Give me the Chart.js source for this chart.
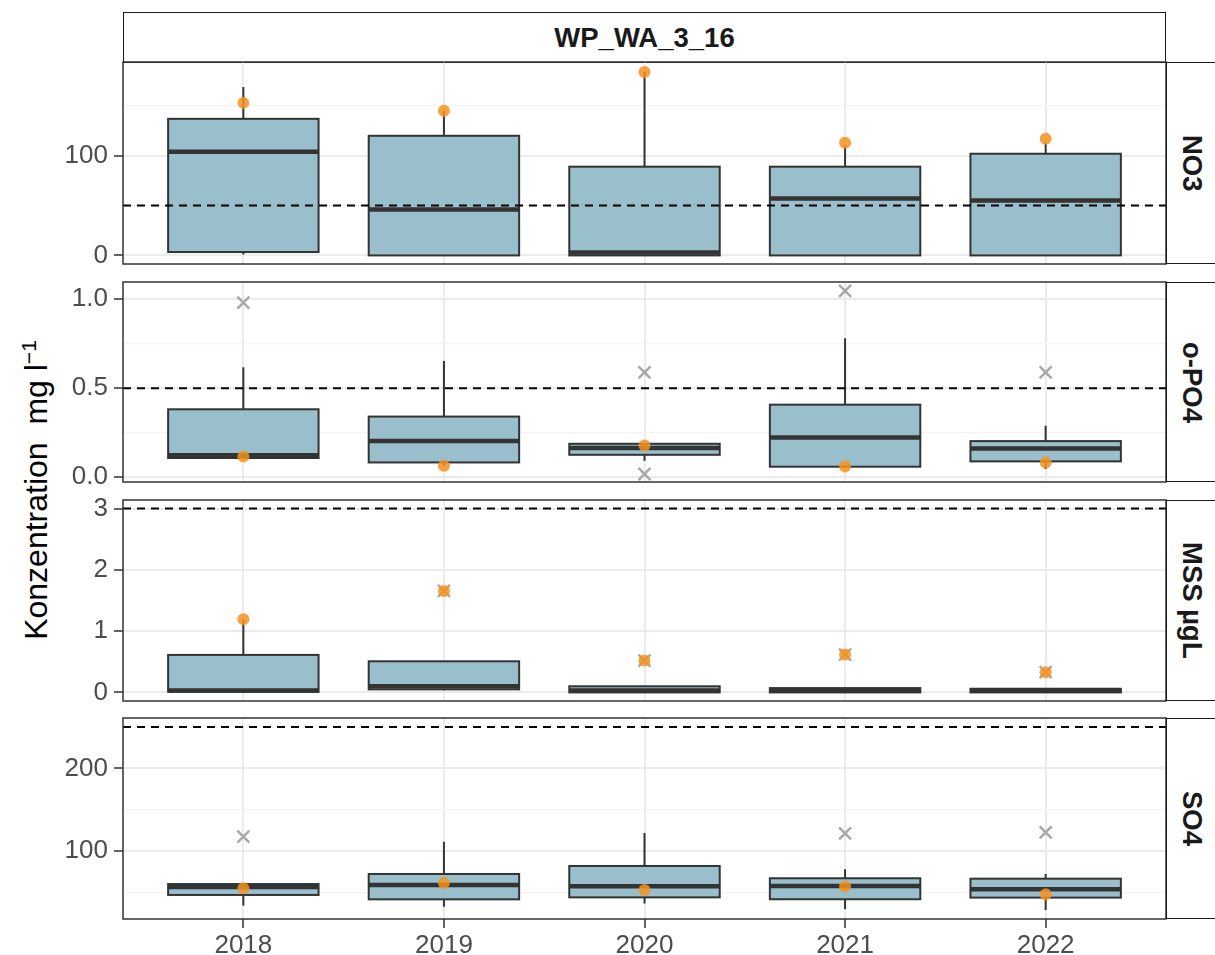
<!DOCTYPE html>
<html>
<head>
<meta charset="utf-8">
<script src="https://cdn.jsdelivr.net/npm/chart.js@4.4.1/dist/chart.umd.min.js"></script>
<style>
  body { margin: 0; width: 1215px; height: 955px; overflow: hidden; position: relative; background: #fff; font-family: "Liberation Sans", Arial, sans-serif; }
  canvas { position: absolute; left: 0; }
  .strip { position: absolute; box-sizing: border-box; border: 1.5px solid #1a1a1a; background: #fff; color: #1a1a1a; font-weight: bold; font-size: 27.5px; display: flex; align-items: center; justify-content: center; }
  .strip.side { writing-mode: vertical-rl; }
  #ytitle { position: absolute; left: 36px; top: 490px; transform: translate(-50%, -50%) rotate(-90deg); white-space: nowrap; font-size: 32px; color: #000; }
  #ytitle sup { font-size: 21px; }
</style>
</head>
<body>
<div class="strip" style="left:123px;top:12px;width:1043px;height:51px;">WP_WA_3_16</div>
<div id="ytitle">Konzentration&nbsp; mg l<sup>−1</sup></div>
<script>
// values
const years = ['2018', '2019', '2020', '2021', '2022']

const no3Low = [1, 0, 0, 0, 0]
const no3Q1 = [3.4, 0, 0, 0, 0]
const no3Median = [104, 46, 3, 57, 55]
const no3Q3 = [137, 120, 89, 89, 102]
const no3High = [169, 145, 184, 110, 113]
const no3Dots = [153, 145, 184, 113, 117]
const no3Crosses = [[], [], [], [], []]
const no3Limit = 50
const no3Ticks = [0, 100]
const no3TickLabels = ['0', '100']
const no3Minor = [50, 150]

const po4Low = [0.107, 0.065, 0.091, 0.055, 0.045]
const po4Q1 = [0.107, 0.082, 0.125, 0.058, 0.088]
const po4Median = [0.123, 0.202, 0.163, 0.222, 0.16]
const po4Q3 = [0.381, 0.34, 0.187, 0.407, 0.202]
const po4High = [0.617, 0.652, 0.187, 0.78, 0.289]
const po4Dots = [0.116, 0.063, 0.177, 0.059, 0.082]
const po4Crosses = [[0.981], [], [0.589, 0.017], [1.047], [0.589]]
const po4Limit = 0.5
const po4Ticks = [0, 0.5, 1]
const po4TickLabels = ['0.0', '0.5', '1.0']
const po4Minor = [0.25, 0.75]

const mssLow = [0, 0.035, 0, 0, 0]
const mssQ1 = [0.01, 0.05, 0, 0, 0]
const mssMedian = [0.03, 0.1, 0.03, 0.04, 0.03]
const mssQ3 = [0.612, 0.508, 0.1, 0.07, 0.06]
const mssHigh = [1.2, 0.508, 0.1, 0.07, 0.06]
const mssDots = [1.196, 1.656, 0.52, 0.617, 0.33]
const mssCrosses = [[], [1.656], [0.52], [0.617], [0.33]]
const mssLimit = 3
const mssTicks = [0, 1, 2, 3]
const mssTickLabels = ['0', '1', '2', '3']
const mssMinor = [0.5, 1.5, 2.5]

const so4Low = [33.9, 32.6, 36.6, 29.5, 28.7]
const so4Q1 = [46.8, 41.5, 43.9, 41.6, 43.6]
const so4Median = [56.5, 58.9, 57.3, 57.7, 53.6]
const so4Q3 = [60, 72.2, 81.9, 67, 66.5]
const so4High = [60, 111.3, 121.8, 77.9, 72.2]
const so4Dots = [54.9, 61.3, 52.8, 57, 47.6]
const so4Crosses = [[117.3], [], [], [121.4], [122.6]]
const so4Limit = 250
const so4Ticks = [100, 200]
const so4TickLabels = ['100', '200']
const so4Minor = [50, 150]

const panels = [
  { name: 'NO3', low: no3Low, q1: no3Q1, median: no3Median, q3: no3Q3, high: no3High, dots: no3Dots, crosses: no3Crosses, limit: no3Limit, ticks: no3Ticks, tickLabels: no3TickLabels, minor: no3Minor, min: -8.6, max: 194, top: 62, height: 202 },
  { name: 'o-PO4', low: po4Low, q1: po4Q1, median: po4Median, q3: po4Q3, high: po4High, dots: po4Dots, crosses: po4Crosses, limit: po4Limit, ticks: po4Ticks, tickLabels: po4TickLabels, minor: po4Minor, min: -0.028, max: 1.097, top: 282, height: 200 },
  { name: 'MSS µgL', low: mssLow, q1: mssQ1, median: mssMedian, q3: mssQ3, high: mssHigh, dots: mssDots, crosses: mssCrosses, limit: mssLimit, ticks: mssTicks, tickLabels: mssTickLabels, minor: mssMinor, min: -0.14, max: 3.14, top: 500, height: 201 },
  { name: 'SO4', low: so4Low, q1: so4Q1, median: so4Median, q3: so4Q3, high: so4High, dots: so4Dots, crosses: so4Crosses, limit: so4Limit, ticks: so4Ticks, tickLabels: so4TickLabels, minor: so4Minor, min: 17.7, max: 261, top: 718, height: 201 }
]

const PAD = 26
const X_AXIS = 36
const DARK = '#333333'
const FONT = '"Liberation Sans", Arial, sans-serif'

// box, whiskers and median, drawn under the points
function boxPlugin (p) {
  return {
    id: 'boxes',
    beforeDatasetsDraw (chart) {
      const { ctx, scales: { x, y } } = chart
      ctx.save()
      years.forEach((yr, i) => {
        const cx = x.getPixelForValue(i + 1)
        const half = x.getPixelForValue(i + 1.375) - cx
        const top = y.getPixelForValue(p.q3[i])
        const bot = y.getPixelForValue(p.q1[i])
        ctx.strokeStyle = DARK
        ctx.lineWidth = 2
        ctx.beginPath()
        ctx.moveTo(cx, y.getPixelForValue(p.high[i]))
        ctx.lineTo(cx, top)
        ctx.moveTo(cx, y.getPixelForValue(p.low[i]))
        ctx.lineTo(cx, bot)
        ctx.stroke()
        ctx.fillStyle = '#99bfcc'
        ctx.fillRect(cx - half, top, half * 2, bot - top)
        ctx.strokeRect(cx - half, top, half * 2, bot - top)
        ctx.lineWidth = 4.5
        ctx.beginPath()
        const my = y.getPixelForValue(p.median[i])
        ctx.moveTo(cx - half, my)
        ctx.lineTo(cx + half, my)
        ctx.stroke()
      })
      ctx.restore()
    },
    afterDraw (chart) {
      const { ctx, chartArea: a } = chart
      ctx.save()
      ctx.strokeStyle = DARK
      ctx.lineWidth = 1.5
      ctx.strokeRect(a.left, a.top, a.right - a.left, a.bottom - a.top)
      ctx.restore()
    }
  }
}

function makePanel (p, isLast) {
  const canvas = document.createElement('canvas')
  canvas.width = 1215
  canvas.height = p.height + PAD + (isLast ? X_AXIS : PAD)
  canvas.style.top = (p.top - PAD) + 'px'
  document.body.appendChild(canvas)

  const strip = document.createElement('div')
  strip.className = 'strip side'
  strip.style.cssText = `left:1166px;top:${p.top}px;width:52px;height:${p.height}px;`
  strip.textContent = p.name
  document.body.appendChild(strip)

  const crossPoints = []
  p.crosses.forEach((list, i) => list.forEach(v => crossPoints.push({ x: i + 1, y: v })))
  const allTicks = [...p.ticks, ...p.minor].sort((a, b) => a - b)
  const isMinor = v => p.minor.includes(v)

  return new Chart(canvas, {
    data: {
      datasets: [
        {
          type: 'line',
          data: [{ x: 0.4, y: p.limit }, { x: 5.6, y: p.limit }],
          borderColor: '#000',
          borderWidth: 2,
          borderDash: [8, 6],
          pointRadius: 0,
          order: 0
        },
        {
          type: 'scatter',
          data: p.dots.map((v, i) => ({ x: i + 1, y: v })),
          backgroundColor: 'rgba(246, 146, 30, 0.85)',
          borderWidth: 0,
          pointRadius: 6,
          order: 1
        },
        {
          type: 'scatter',
          data: crossPoints,
          pointStyle: 'crossRot',
          pointRadius: 8.5,
          borderColor: '#a8a8a8',
          borderWidth: 2.5,
          order: 2
        }
      ]
    },
    options: {
      responsive: false,
      animation: false,
      events: [],
      layout: { padding: { top: PAD, bottom: isLast ? 0 : PAD, left: 0, right: 49 } },
      plugins: { legend: { display: false }, tooltip: { enabled: false } },
      scales: {
        x: {
          type: 'linear',
          min: 0.4,
          max: 5.6,
          afterBuildTicks: s => { s.ticks = years.map((yr, i) => ({ value: i + 1 })) },
          afterFit: s => { s.height = isLast ? X_AXIS : 0 },
          border: { display: false },
          grid: { color: '#ebebeb', lineWidth: 2, drawTicks: isLast, tickLength: 9, tickColor: DARK, tickWidth: 1.5 },
          ticks: {
            display: isLast,
            callback: (v, i) => years[i],
            color: '#4d4d4d',
            font: { family: FONT, size: 26 },
            padding: 2,
            maxRotation: 0
          }
        },
        y: {
          min: p.min,
          max: p.max,
          afterBuildTicks: s => { s.ticks = allTicks.map(v => ({ value: v })) },
          afterFit: s => { s.width = 123 },
          border: { display: false },
          grid: {
            color: ctx => isMinor(ctx.tick.value) ? '#f3f3f3' : '#ebebeb',
            lineWidth: ctx => isMinor(ctx.tick.value) ? 1.2 : 2,
            tickColor: ctx => isMinor(ctx.tick.value) ? 'rgba(0,0,0,0)' : DARK,
            tickLength: 9,
            tickWidth: 1.5
          },
          ticks: {
            callback: v => {
              const k = p.ticks.indexOf(v)
              return k >= 0 ? p.tickLabels[k] : ''
            },
            color: '#4d4d4d',
            font: { family: FONT, size: 26 },
            padding: 6
          }
        }
      }
    },
    plugins: [boxPlugin(p)]
  })
}

panels.forEach((p, i) => makePanel(p, i === panels.length - 1))
</script>
</body>
</html>
